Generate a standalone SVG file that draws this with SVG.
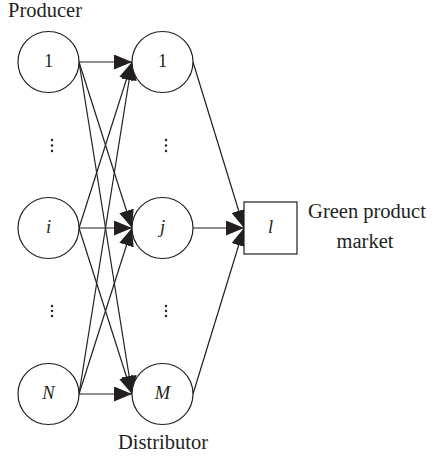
<svg xmlns="http://www.w3.org/2000/svg" width="432" height="458" viewBox="0 0 432 458">
  <style>
    .node { fill: #ffffff; stroke: #231f20; stroke-width: 1.2; }
    .edge { stroke: #231f20; stroke-width: 1.2; fill: none; marker-end: url(#arrow); }
    .lbl { font-family: "Liberation Serif", "Times New Roman", serif; font-size: 18.5px; fill: #231f20; text-anchor: middle; }
    .it { font-style: italic; }
    .cap { font-family: "Liberation Serif", "Times New Roman", serif; font-size: 20.5px; fill: #231f20; }
    .dot { fill: #231f20; }
  </style>
  <defs>
    <marker id="arrow" markerUnits="userSpaceOnUse" markerWidth="18" markerHeight="15" refX="18" refY="7.5" orient="auto">
      <path d="M0,0 L18,7.5 L0,15 Z" fill="#231f20"/>
    </marker>
  </defs>

  <!-- connectors -->
  <g id="connectors">
    <!-- producers to distributors -->
    <line class="edge" x1="79" y1="62" x2="132" y2="62"/>
    <line class="edge" x1="79" y1="62" x2="132" y2="228"/>
    <line class="edge" x1="79" y1="62" x2="132" y2="394"/>
    <line class="edge" x1="79" y1="228" x2="132" y2="62"/>
    <line class="edge" x1="79" y1="228" x2="132" y2="228"/>
    <line class="edge" x1="79" y1="228" x2="132" y2="394"/>
    <line class="edge" x1="79" y1="394" x2="132" y2="62"/>
    <line class="edge" x1="79" y1="394" x2="132" y2="228"/>
    <line class="edge" x1="79" y1="394" x2="132" y2="394"/>
    <!-- distributors to market -->
    <line class="edge" x1="193" y1="62" x2="244" y2="228"/>
    <line class="edge" x1="193" y1="228" x2="244" y2="228"/>
    <line class="edge" x1="193" y1="394" x2="244" y2="228"/>
  </g>

  <!-- producers -->
  <g id="producer-1">
    <circle class="node" cx="48.5" cy="62" r="30.5"/>
    <text class="lbl" x="48.5" y="67">1</text>
  </g>
  <g id="producer-i">
    <circle class="node" cx="48.5" cy="228" r="30.5"/>
    <text class="lbl it" x="48.5" y="233">i</text>
  </g>
  <g id="producer-N">
    <circle class="node" cx="48.5" cy="394" r="30.5"/>
    <text class="lbl it" x="48.5" y="399">N</text>
  </g>

  <!-- distributors -->
  <g id="distributor-1">
    <circle class="node" cx="162.5" cy="62" r="30.5"/>
    <text class="lbl" x="162.5" y="67">1</text>
  </g>
  <g id="distributor-j">
    <circle class="node" cx="162.5" cy="228" r="30.5"/>
    <text class="lbl it" x="162.5" y="233">j</text>
  </g>
  <g id="distributor-M">
    <circle class="node" cx="162.5" cy="394" r="30.5"/>
    <text class="lbl it" x="162.5" y="399">M</text>
  </g>

  <!-- market -->
  <g id="market-l">
    <rect class="node" x="244" y="202" width="53" height="52"/>
    <text class="lbl it" x="270.5" y="233">l</text>
  </g>

  <!-- vertical ellipses between rows -->
  <g id="ellipses">
    <circle class="dot" cx="52" cy="140" r="1.2"/>
    <circle class="dot" cx="52" cy="145.5" r="1.2"/>
    <circle class="dot" cx="52" cy="151" r="1.2"/>
    <circle class="dot" cx="52" cy="306" r="1.2"/>
    <circle class="dot" cx="52" cy="311" r="1.2"/>
    <circle class="dot" cx="52" cy="316" r="1.2"/>
    <circle class="dot" cx="166" cy="140" r="1.2"/>
    <circle class="dot" cx="166" cy="145.5" r="1.2"/>
    <circle class="dot" cx="166" cy="151" r="1.2"/>
    <circle class="dot" cx="166" cy="306" r="1.2"/>
    <circle class="dot" cx="166" cy="311" r="1.2"/>
    <circle class="dot" cx="166" cy="316" r="1.2"/>
  </g>

  <!-- captions -->
  <g id="captions">
    <text class="cap" x="8" y="17">Producer</text>
    <text class="cap" x="163" y="449" text-anchor="middle">Distributor</text>
    <text class="cap" x="367" y="218" text-anchor="middle">Green product</text>
    <text class="cap" x="365" y="248" text-anchor="middle">market</text>
  </g>
</svg>
